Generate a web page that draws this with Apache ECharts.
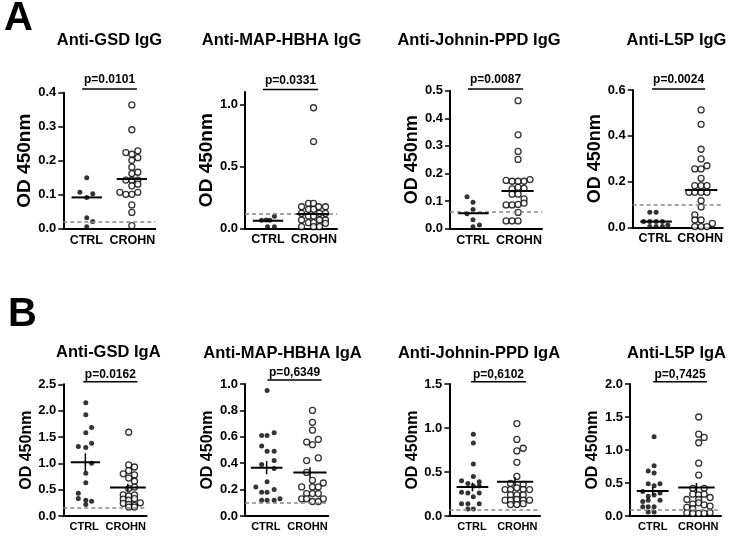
<!DOCTYPE html>
<html><head><meta charset="utf-8">
<script src="https://cdn.jsdelivr.net/npm/echarts@6/dist/echarts.min.js"></script>
<style>html,body{margin:0;padding:0;background:#fff}#c{width:733px;height:536px}</style>
</head><body><div id="c"></div>
<script>
// ---------- data ----------
const groups = ['CTRL', 'CROHN'];
const titles = ['Anti-GSD IgG', 'Anti-MAP-HBHA IgG', 'Anti-Johnin-PPD IgG', 'Anti-L5P IgG',
                'Anti-GSD IgA', 'Anti-MAP-HBHA IgA', 'Anti-Johnin-PPD IgA', 'Anti-L5P IgA'];
const pTexts = ['p=0.0101', 'p=0.0331', 'p=0.0087', 'p=0.0024', 'p=0.0162', 'p=0,6349', 'p=0,6102', 'p=0,7425'];
const yMax = [0.4, 1.1, 0.5, 0.6, 2.5, 1.0, 1.5, 2.0];
const yTicks = [[0, 0.1, 0.2, 0.3, 0.4], [0, 0.5, 1.0], [0, 0.1, 0.2, 0.3, 0.4, 0.5], [0, 0.2, 0.4, 0.6],
                [0, 0.5, 1.0, 1.5, 2.0, 2.5], [0, 0.2, 0.4, 0.6, 0.8, 1.0], [0, 0.5, 1.0, 1.5], [0, 0.5, 1.0, 1.5, 2.0]];
const cutoffs = [0.018, 0.12, 0.056, 0.105, 0.15, 0.096, 0.068, 0.09];
// [x start, x end, level] of the p-value bracket
const pBrackets = [[0.41, 1.60, 0.411], [0.39, 1.59, 1.12], [0.39, 1.59, 0.506], [0.43, 1.61, 0.604],
                   [0.48, 1.78, 2.55], [0.54, 1.84, 1.03], [0.48, 1.69, 1.526], [0.51, 1.69, 2.035]];

// points: [x position within the column, OD]
const gsdIgG_ctrl = [[.51,.150],[.36,.107],[.64,.103],[.51,.092],[.51,.032],[.64,.021],[.51,.006]];
const gsdIgG_crohn = [[1.49,.364],[1.49,.291],[1.36,.224],[1.49,.219],[1.62,.229],[1.62,.209],[1.49,.201],[1.49,.181],[1.49,.162],[1.62,.166],[1.36,.143],[1.49,.143],[1.62,.143],[1.49,.126],[1.62,.131],[1.23,.107],[1.36,.101],[1.49,.101],[1.62,.107],[1.49,.070],[1.49,.048],[1.49,.009]];
const hbhaIgG_ctrl = [[.36,.064],[.46,.067],[.54,.064],[.64,.097],[.49,.013],[.64,.013]];
const hbhaIgG_crohn = [[1.49,.973],[1.49,.700],[1.38,.201],[1.49,.201],[1.23,.174],[1.60,.174],[1.75,.174],[1.38,.153],[1.49,.153],[1.23,.121],[1.62,.121],[1.75,.121],[1.38,.099],[1.49,.099],[1.23,.067],[1.62,.067],[1.75,.067],[1.38,.045],[1.49,.045],[1.23,.013],[1.49,.013],[1.62,.013],[1.75,.040]];
const ppdIgG_ctrl = [[.37,.116],[.50,.096],[.50,.070],[.37,.054],[.50,.032],[.50,.007],[.64,.013]];
const ppdIgG_crohn = [[1.48,.464],[1.48,.340],[1.48,.280],[1.48,.251],[1.22,.175],[1.35,.172],[1.48,.172],[1.61,.172],[1.74,.178],[1.35,.144],[1.48,.150],[1.61,.146],[1.35,.125],[1.48,.125],[1.61,.108],[1.22,.086],[1.35,.086],[1.48,.088],[1.61,.093],[1.48,.059],[1.22,.028],[1.35,.028],[1.48,.028]];
const l5pIgG_ctrl = [[.38,.066],[.52,.066],[.24,.025],[.38,.025],[.52,.025],[.66,.025],[.38,.003],[.52,.003],[.66,.003],[.78,.010]];
const l5pIgG_crohn = [[1.52,.513],[1.52,.450],[1.52,.341],[1.52,.299],[1.38,.255],[1.52,.255],[1.65,.269],[1.52,.214],[1.38,.182],[1.52,.182],[1.65,.182],[1.25,.153],[1.38,.153],[1.52,.153],[1.65,.153],[1.52,.116],[1.52,.089],[1.38,.054],[1.38,.032],[1.52,.032],[1.77,.017],[1.38,.003],[1.52,.003],[1.65,.003]];
const gsdIgA_ctrl = [[.54,2.15],[.54,1.92],[.68,1.68],[.54,1.58],[.68,1.38],[.36,1.32],[.54,1.30],[.68,1.00],[.54,.81],[.54,.63],[.36,.43],[.36,.33],[.54,.30],[.68,.28],[.54,.22]];
const gsdIgA_crohn = [[1.57,1.59],[1.57,.97],[1.71,.93],[1.57,.86],[1.71,.78],[1.44,.80],[1.57,.72],[1.71,.66],[1.57,.52],[1.71,.55],[1.44,.40],[1.57,.38],[1.71,.40],[1.44,.32],[1.57,.30],[1.71,.33],[1.44,.24],[1.57,.22],[1.71,.20],[1.85,.25],[1.57,.17],[1.71,.17]];
const hbhaIgA_ctrl = [[.53,.95],[.40,.61],[.53,.61],[.70,.63],[.40,.53],[.53,.49],[.70,.49],[.40,.39],[.70,.42],[.70,.36],[.53,.26],[.26,.22],[.40,.18],[.53,.18],[.70,.20],[.40,.12],[.53,.12],[.70,.12],[.84,.13]];
const hbhaIgA_crohn = [[1.62,.80],[1.62,.71],[1.62,.65],[1.48,.56],[1.62,.54],[1.76,.58],[1.48,.42],[1.76,.44],[1.48,.33],[1.62,.27],[1.88,.25],[1.36,.22],[1.62,.22],[1.76,.22],[1.48,.17],[1.62,.17],[1.76,.17],[1.36,.13],[1.48,.13],[1.62,.11],[1.88,.13],[1.76,.11]];
const ppdIgA_ctrl = [[.53,.93],[.53,.83],[.53,.59],[.53,.45],[.27,.40],[.41,.37],[.66,.39],[.53,.34],[.66,.34],[.27,.27],[.41,.26],[.66,.26],[.53,.22],[.27,.14],[.41,.14],[.66,.14],[.41,.08],[.53,.08]];
const ppdIgA_crohn = [[1.49,1.05],[1.49,.87],[1.49,.74],[1.63,.77],[1.49,.61],[1.49,.45],[1.35,.37],[1.63,.36],[1.23,.30],[1.35,.30],[1.49,.32],[1.63,.30],[1.77,.30],[1.35,.24],[1.49,.24],[1.63,.24],[1.23,.18],[1.35,.18],[1.49,.19],[1.63,.18],[1.77,.18],[1.35,.13],[1.49,.13],[1.63,.14]];
const l5pIgA_ctrl = [[.53,1.20],[.53,.76],[.40,.68],[.53,.65],[.53,.46],[.40,.49],[.66,.49],[.28,.37],[.40,.30],[.53,.32],[.66,.35],[.28,.22],[.40,.24],[.66,.24],[.28,.14],[.40,.14],[.53,.14],[.40,.06],[.53,.06]];
const l5pIgA_crohn = [[1.51,1.50],[1.51,1.24],[1.63,1.19],[1.51,1.11],[1.51,.80],[1.51,.62],[1.38,.42],[1.63,.42],[1.38,.33],[1.51,.32],[1.63,.33],[1.25,.25],[1.51,.25],[1.76,.28],[1.38,.18],[1.51,.20],[1.63,.17],[1.25,.13],[1.38,.11],[1.76,.15],[1.25,.05],[1.38,.04],[1.51,.04],[1.63,.04],[1.76,.05]];

// central lines: [column centre, value, half width, SEM]
const gsdIgG_lines = [[.51,.092,.33,0],[1.49,.146,.33,0]];
const hbhaIgG_lines = [[.50,.061,.33,0],[1.47,.115,.35,0]];
const ppdIgG_lines = [[.51,.056,.33,0],[1.47,.137,.35,0]];
const l5pIgG_lines = [[.52,.025,.35,0],[1.52,.163,.36,0]];
const gsdIgA_lines = [[.53,1.02,.35,.17],[1.55,.54,.43,.07]];
const hbhaIgA_lines = [[.52,.366,.38,.05],[1.56,.33,.40,.04]];
const ppdIgA_lines = [[.51,.33,.35,.05],[1.45,.39,.40,.05]];
const l5pIgA_lines = [[.50,.38,.35,.06],[1.46,.43,.40,.07]];

const ctrlSets = [gsdIgG_ctrl, hbhaIgG_ctrl, ppdIgG_ctrl, l5pIgG_ctrl, gsdIgA_ctrl, hbhaIgA_ctrl, ppdIgA_ctrl, l5pIgA_ctrl];
const crohnSets = [gsdIgG_crohn, hbhaIgG_crohn, ppdIgG_crohn, l5pIgG_crohn, gsdIgA_crohn, hbhaIgA_crohn, ppdIgA_crohn, l5pIgA_crohn];
const lineSets = [gsdIgG_lines, hbhaIgG_lines, ppdIgG_lines, l5pIgG_lines, gsdIgA_lines, hbhaIgA_lines, ppdIgA_lines, l5pIgA_lines];

// ---------- layout ----------
const layout = [
  {left: 63.3, top: 92.7, width: 92, height: 136, gap: 23, ns: 19, xs: 12.5, tx: 109.5, ty: 40, pd: 9},
  {left: 245, top: 92, width: 92, height: 136.3, gap: 23, ns: 19, xs: 12.5, tx: 281.5, ty: 40, pd: 9},
  {left: 450, top: 90.7, width: 92, height: 138, gap: 25, ns: 18, xs: 12.5, tx: 479, ty: 40, pd: 9},
  {left: 632.7, top: 90, width: 90, height: 137.3, gap: 26, ns: 18, xs: 12.5, tx: 676.5, ty: 40, pd: 9},
  {left: 63.3, top: 384.3, width: 83.3, height: 131.7, gap: 24, ns: 16, xs: 11, tx: 108.3, ty: 352, pd: 7},
  {left: 245, top: 384, width: 83.3, height: 132, gap: 23, ns: 16, xs: 11, tx: 282.5, ty: 353, pd: 7},
  {left: 449.3, top: 384, width: 90.7, height: 132, gap: 24, ns: 16, xs: 11, tx: 479, ty: 353, pd: 7},
  {left: 630, top: 384, width: 91, height: 132, gap: 24, ns: 16, xs: 11, tx: 676.5, ty: 353, pd: 7}
];
const FONT = '"Liberation Sans", Arial, Helvetica, sans-serif';

function renderCentral(params, api) {
  const cx = api.value(0), m = api.value(1), h = api.value(2), s = api.value(3);
  const a = api.coord([cx - h, m]), b = api.coord([cx + h, m]);
  const children = [{type: 'line', shape: {x1: a[0], y1: a[1], x2: b[0], y2: b[1]}, style: {stroke: '#000', lineWidth: 2}}];
  if (s > 0) {
    const lo = api.coord([cx, m - s]), hi = api.coord([cx, m + s]);
    children.push({type: 'line', shape: {x1: lo[0], y1: lo[1], x2: hi[0], y2: hi[1]}, style: {stroke: '#000', lineWidth: 1.5}});
  }
  return {type: 'group', children};
}

function makeBracketRenderer(text, offset) {
  return function (params, api) {
    const a = api.coord([api.value(0), api.value(2)]);
    const b = api.coord([api.value(1), api.value(2)]);
    return {type: 'group', children: [
      {type: 'line', shape: {x1: a[0], y1: a[1], x2: b[0], y2: b[1]}, style: {stroke: '#000', lineWidth: 1.5}},
      {type: 'text', x: (a[0] + b[0]) / 2, y: a[1] - offset,
       style: {text: text, align: 'center', verticalAlign: 'middle', fill: '#000', font: 'bold 12px ' + FONT}}
    ]};
  };
}

const grid = [], xAxis = [], yAxis = [], series = [], graphic = [];
layout.forEach((L, i) => {
  grid.push({left: L.left, top: L.top, width: L.width, height: L.height});
  xAxis.push({
    type: 'value', gridIndex: i, min: 0, max: 2,
    axisLine: {lineStyle: {color: '#000', width: 2}},
    axisTick: {show: false}, splitLine: {show: false},
    axisLabel: {customValues: [0.5, 1.5], formatter: v => (v < 1 ? groups[0] : groups[1]),
                color: '#000', fontWeight: 'bold', fontSize: L.xs, fontFamily: FONT, margin: 5}
  });
  yAxis.push({
    type: 'value', gridIndex: i, min: 0, max: yMax[i],
    name: 'OD 450nm', nameLocation: 'middle', nameGap: L.gap,
    nameTextStyle: {color: '#000', fontWeight: 'bold', fontSize: L.ns, fontFamily: FONT},
    axisLine: {show: true, lineStyle: {color: '#000', width: 2}},
    axisTick: {show: true, customValues: yTicks[i], length: 5, lineStyle: {color: '#000', width: 1.5}},
    splitLine: {show: false},
    axisLabel: {customValues: yTicks[i], formatter: v => v.toFixed(1), color: '#000',
                fontWeight: 'bold', fontSize: 13, fontFamily: FONT, margin: 7}
  });
  series.push({
    type: 'scatter', xAxisIndex: i, yAxisIndex: i, data: ctrlSets[i], clip: false,
    symbol: 'circle', symbolSize: 5, itemStyle: {color: '#000'}, silent: true,
    markLine: {
      silent: true, symbol: ['none', 'none'], animation: false,
      data: [{yAxis: cutoffs[i], lineStyle: {color: '#888', type: [4, 3], width: 1.5}, label: {show: false}}]
    }
  });
  series.push({
    type: 'scatter', xAxisIndex: i, yAxisIndex: i, data: crohnSets[i], clip: false,
    symbol: 'circle', symbolSize: 6, silent: true,
    itemStyle: {color: '#fff', borderColor: '#000', borderWidth: 1.3}
  });
  series.push({
    type: 'custom', xAxisIndex: i, yAxisIndex: i, data: lineSets[i], clip: false, silent: true,
    encode: {x: 0, y: 1}, renderItem: renderCentral, z: 5
  });
  series.push({
    type: 'custom', xAxisIndex: i, yAxisIndex: i, data: [pBrackets[i]], clip: false, silent: true,
    encode: {x: [0, 1], y: 2}, renderItem: makeBracketRenderer(pTexts[i], L.pd), z: 5
  });
  graphic.push({type: 'text', x: L.tx, y: L.ty, silent: true,
    style: {text: titles[i], align: 'center', verticalAlign: 'middle', fill: '#000',
            font: 'bold 16.5px ' + FONT}});
});
graphic.push({type: 'text', x: 4, y: 19, style: {text: 'A', align: 'left', verticalAlign: 'middle', fill: '#000', font: 'bold 40px ' + FONT}});
graphic.push({type: 'text', x: 8, y: 315, style: {text: 'B', align: 'left', verticalAlign: 'middle', fill: '#000', font: 'bold 40px ' + FONT}});

const chart = echarts.init(document.getElementById('c'), null, {renderer: 'canvas'});
chart.setOption({
  animation: false, backgroundColor: '#fff',
  textStyle: {fontFamily: FONT},
  grid, xAxis, yAxis, series, graphic
});
</script></body></html>
